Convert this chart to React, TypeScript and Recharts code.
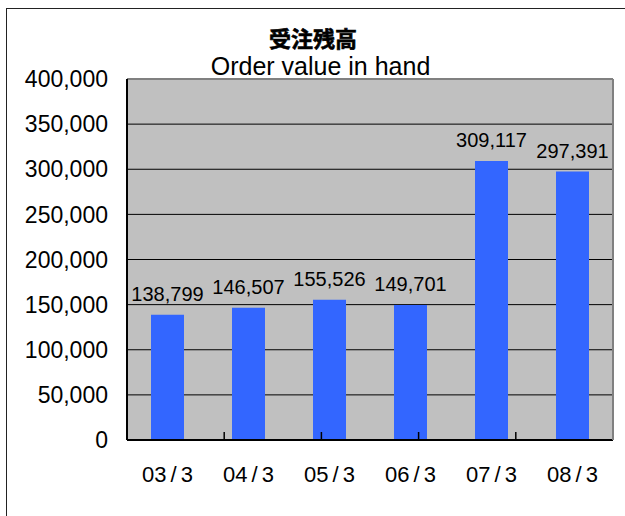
import React from 'react';
import { BarChart, Bar, XAxis, YAxis, CartesianGrid, LabelList } from 'recharts';

const categories = ['03/3', '04/3', '05/3', '06/3', '07/3', '08/3'];
const orderValues = [138799, 146507, 155526, 149701, 309117, 297391];
const yTicks = [0, 50000, 100000, 150000, 200000, 250000, 300000, 350000, 400000];
const gridValues = [50000, 100000, 150000, 200000, 250000, 300000, 350000];
const boundaryTicks = [0, 1, 2, 3, 4, 5, 6];
const titleJa = '受注残高';
const titleEn = 'Order value in hand';

const data = categories.map((c, i) => ({ name: c, value: orderValues[i] }));
const fmt = (v: number) => v.toLocaleString('en-US');
const FONT = '"Liberation Sans", Arial, sans-serif';

const CatTick = (props: any) => {
  const { x, y, payload } = props;
  const parts = String(payload.value).split('/');
  return (
    <text x={x} y={y} dy="0.71em" textAnchor="middle" fontSize={22} fontFamily={FONT} fill="#000">
      <tspan>{parts[0]}</tspan>
      <tspan dx={4}>/</tspan>
      <tspan dx={4}>{parts[1]}</tspan>
    </text>
  );
};

const EmptyTick = () => <g />;

export default function App() {
  return (
    <div>
      <div
        style={{
          position: 'absolute',
          left: 6,
          top: 8,
          width: 619,
          height: 508,
          boxSizing: 'border-box',
          borderLeft: '1px solid #222',
          borderTop: '1px solid #222',
        }}
      />
      <div style={{ position: 'absolute', left: 0, top: 0, width: 625, height: 516 }}>
        <BarChart
          width={625}
          height={516}
          data={data}
          margin={{ top: 78, right: 11, bottom: 0, left: 0 }}
          barCategoryGap={0}
        >
          <CartesianGrid
            vertical={false}
            horizontalValues={gridValues}
            stroke="#000"
            strokeOpacity={1}
            fill="#c0c0c0"
            fillOpacity={1}
            xAxisId="b"
          />
          <XAxis
            xAxisId="b"
            dataKey="name"
            height={75}
            tickSize={0}
            tickMargin={25}
            axisLine={false}
            tickLine={false}
            tick={<CatTick />}
            interval={0}
          />
          <XAxis
            xAxisId="a"
            type="number"
            domain={[0, 6]}
            ticks={boundaryTicks}
            interval={0}
            allowDataOverflow
            height={1}
            tick={<EmptyTick />}
            axisLine={{ stroke: '#000', strokeWidth: 2 }}
            tickSize={-8}
            tickLine={{ stroke: '#000', strokeWidth: 1.5 }}
          />
          <XAxis
            xAxisId="t"
            orientation="top"
            height={1}
            tick={false}
            tickLine={false}
            axisLine={{ stroke: '#808080', strokeWidth: 2 }}
          />
          <YAxis
            domain={[0, 400000]}
            ticks={yTicks}
            width={127}
            tickSize={0}
            tickMargin={19}
            tickFormatter={fmt}
            axisLine={{ stroke: '#000', strokeWidth: 2 }}
            tickLine={false}
            tick={{ fill: '#000', fontSize: 23, fontFamily: FONT }}
            interval={0}
          />
          <YAxis
            yAxisId="r"
            orientation="right"
            width={1}
            domain={[0, 400000]}
            tick={false}
            tickLine={false}
            axisLine={{ stroke: '#808080', strokeWidth: 2 }}
          />
          <Bar xAxisId="b" dataKey="value" fill="#3366ff" barSize={33} isAnimationActive={false}>
            <LabelList
              dataKey="value"
              position="top"
              offset={14}
              formatter={(v: any) => fmt(Number(v))}
              style={{ fill: '#000', fontSize: 20, fontFamily: FONT }}
            />
          </Bar>
        </BarChart>
      </div>
      <svg
        width={625}
        height={90}
        style={{ position: 'absolute', left: 0, top: 0, pointerEvents: 'none' }}
      >
        <text
          x={313}
          y={47}
          textAnchor="middle"
          fontSize={22}
          fontWeight="bold"
          stroke="#000"
          strokeWidth={0.6}
          fontFamily='"Noto Sans CJK JP", "Noto Sans CJK SC", sans-serif'
          fill="#000"
        >
          {titleJa}
        </text>
        <text x={320.5} y={75} textAnchor="middle" fontSize={25} fontFamily={FONT} fill="#000">
          {titleEn}
        </text>
      </svg>
    </div>
  );
}
